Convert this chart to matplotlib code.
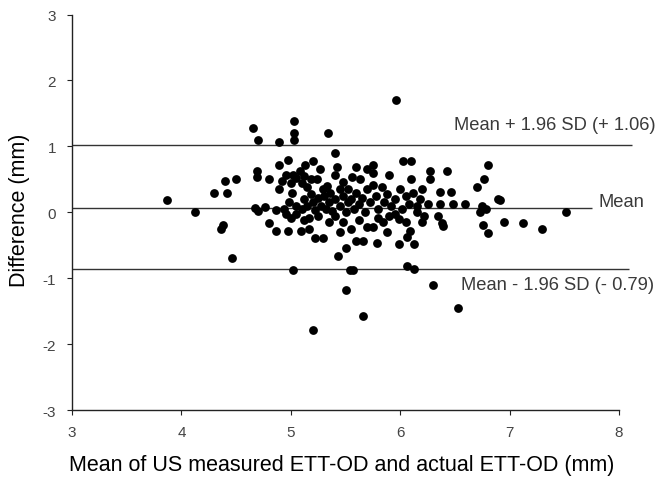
import matplotlib
matplotlib.use("Agg")
import matplotlib.pyplot as plt

plt.rcParams['font.family'] = ['Liberation Sans', 'DejaVu Sans']
plt.rcParams['axes.unicode_minus'] = False

# mean of the two measurements (mm)
mean_vals = [
    3.87, 4.12, 4.30, 4.42, 4.40, 4.50, 4.38, 4.36, 4.46,
    4.65, 4.70, 4.89, 5.03, 5.03, 5.03, 5.34, 5.96,
    4.69, 4.69, 4.80, 4.67, 4.70, 4.76, 4.86, 4.80, 4.86, 4.97, 5.09, 5.17,
    5.22, 5.29, 5.17, 5.02, 5.20,
    4.89, 4.97, 5.13, 5.20, 5.27, 4.96, 5.02, 5.08, 4.89, 5.01, 5.15, 5.24,
    5.29, 4.92, 5.00, 5.05, 5.10, 5.12, 5.18, 4.98, 4.94, 4.96, 5.00, 5.05,
    5.05, 5.10, 5.12, 5.15, 5.18, 5.20, 5.22, 5.25, 5.28, 5.30, 5.32, 5.33,
    5.35, 5.36, 5.38, 5.40, 5.40, 5.42, 5.40, 5.48, 5.45, 5.45, 5.48, 5.50,
    5.52, 5.52, 5.55, 5.56, 5.58, 5.60, 5.60, 5.62, 5.63, 5.65, 5.68, 5.70,
    5.70, 5.72, 5.75, 5.75, 5.75, 5.78, 5.80, 5.83, 5.85, 5.88, 5.90, 5.92,
    5.95, 6.00, 6.02, 6.03, 6.05, 6.08, 6.10, 6.10, 6.12, 6.15, 6.18, 6.20,
    6.25, 6.27, 6.27, 6.36, 6.36, 6.43, 6.46, 6.48, 6.59, 6.70, 6.77, 6.80,
    6.75, 6.73, 6.78, 6.89, 6.91,
    5.40, 5.35, 5.43, 5.50, 5.54, 5.57, 5.50, 5.66, 5.60, 5.66, 5.79, 5.99,
    6.06, 6.13, 6.09, 6.06, 6.13, 5.70, 5.75, 5.84, 5.88, 5.99, 5.55, 5.62,
    5.45, 5.48, 5.90, 6.05, 6.20, 6.38, 6.39, 6.35, 6.76, 6.80, 6.95, 7.12,
    7.30, 7.52, 6.30, 6.53, 6.15, 6.22, 5.95, 5.80, 5.25, 5.12,
]

# difference between the two measurements (mm)
diff_vals = [
    0.18, 0.01, 0.30, 0.30, 0.48, 0.50, -0.19, -0.26, -0.69,
    1.28, 1.09, 1.07, 1.38, 1.21, 1.10, 1.21, 1.70,
    0.62, 0.53, 0.51, 0.07, 0.02, 0.08, 0.04, -0.17, -0.29, -0.29, -0.29, -0.25,
    -0.39, -0.39, -0.08, -0.88, -1.78,
    0.72, 0.80, 0.72, 0.78, 0.65, 0.57, 0.57, 0.62, 0.36, 0.30, 0.39, 0.50,
    0.35, 0.48, 0.45, 0.52, 0.45, 0.55, 0.50, 0.15, 0.05, -0.02, -0.08, 0.10,
    -0.02, 0.05, 0.20, 0.10, 0.28, 0.15, 0.03, 0.22, 0.10, 0.25, 0.05, 0.40,
    0.15, 0.30, 0.02, 0.20, 0.90, 0.68, 0.57, 0.46, 0.35, 0.10, 0.25, 0.00,
    0.15, 0.35, 0.20, 0.53, 0.05, 0.69, 0.30, 0.12, 0.51, 0.22, 0.00, 0.65,
    0.35, 0.15, 0.72, 0.60, 0.42, 0.25, 0.05, 0.39, 0.15, 0.28, 0.57, 0.10,
    0.20, 0.35, 0.05, 0.78, 0.25, 0.12, 0.78, 0.51, 0.30, 0.10, 0.20, 0.36,
    0.13, 0.62, 0.50, 0.13, 0.31, 0.62, 0.31, 0.13, 0.13, 0.38, 0.50, 0.71,
    0.10, 0.00, 0.05, 0.20, 0.19,
    -0.05, -0.15, -0.67, -0.54, -0.88, -0.88, -1.18, -1.58, -0.44, -0.43, -0.46, -0.48,
    -0.38, -0.48, -0.29, -0.82, -0.86, -0.22, -0.22, -0.15, -0.30, -0.10, -0.25, -0.12,
    -0.30, -0.15, -0.05, -0.15, -0.15, -0.16, -0.21, -0.05, -0.19, -0.31, -0.15, -0.16,
    -0.25, 0.00, -1.10, -1.45, 0.00, -0.05, -0.02, -0.08, -0.05, -0.12,
]

# reference lines as drawn: level, right end
line_levels = [1.02, 0.07, -0.86]
line_ends = [8.12, 7.75, 8.09]
line_labels = ['Mean + 1.96 SD (+ 1.06)', 'Mean', 'Mean - 1.96 SD (- 0.79)']
label_pos = [(6.49, 1.33), (7.81, 0.16), (6.56, -1.10)]

fig = plt.figure(figsize=(6.59, 4.81), dpi=100)
ax = fig.add_axes([0.1093, 0.1455, 0.8798, 0.8222])

ax.scatter(mean_vals, diff_vals, s=40, color='black', zorder=3, linewidths=0)

for lvl, end in zip(line_levels, line_ends):
    ax.hlines(lvl, 3, end, color='#333333', lw=1.0, zorder=2)
for txt, (tx, ty) in zip(line_labels, label_pos):
    ax.text(tx, ty, txt, fontsize=13.2, color='#3a3a3a', va='center', ha='left')

ax.set_xlim(3, 8.3)
ax.set_ylim(-3, 3)
ax.set_xticks([3, 4, 5, 6, 7, 8])
ax.set_yticks([-3, -2, -1, 0, 1, 2, 3])
ax.spines['top'].set_visible(False)
ax.spines['right'].set_visible(False)
ax.spines['bottom'].set_bounds(3, 8)
ax.spines['left'].set_bounds(-3, 3)
for s in ['bottom', 'left']:
    ax.spines[s].set_color('#222222')
    ax.spines[s].set_linewidth(1.0)
ax.tick_params(length=3.5, width=0.8, color='#222222', labelsize=11,
               labelcolor='#444444')
ax.tick_params(axis='y', pad=8)
ax.tick_params(axis='x', pad=7)

ax.set_xlabel('Mean of US measured ETT-OD and actual ETT-OD (mm)', fontsize=15.5)
ax.xaxis.set_label_coords(0.465, -0.112)
fig.text(20 / 659, 1 - 210 / 481, 'Difference (mm)', rotation=90, fontsize=15.5,
         ha='center', va='center')

fig.savefig('out.png', dpi=100)
